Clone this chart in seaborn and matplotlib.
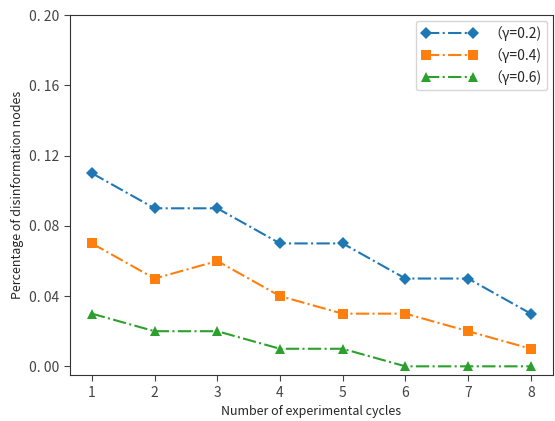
import matplotlib
matplotlib.use("Agg")
import matplotlib.pyplot as plt
import seaborn as sns
import pandas as pd

# Data
cycles = [1, 2, 3, 4, 5, 6, 7, 8]
gamma_02 = [0.11, 0.09, 0.09, 0.07, 0.07, 0.05, 0.05, 0.03]
gamma_04 = [0.07, 0.05, 0.06, 0.04, 0.03, 0.03, 0.02, 0.01]
gamma_06 = [0.03, 0.02, 0.02, 0.01, 0.01, 0.00, 0.00, 0.00]
labels = ["（γ=0.2)", "（γ=0.4)", "（γ=0.6)"]
y_ticks = [0.00, 0.04, 0.08, 0.12, 0.16, 0.20]
y_tick_labels = ["0. 00", "0. 04", "0. 08", "0. 12", "0. 16", "0. 20"]


def build_frame():
    rows = []
    for lab, vals in zip(labels, [gamma_02, gamma_04, gamma_06]):
        for c, v in zip(cycles, vals):
            rows.append({"cycle": c, "value": v, "series": lab})
    return pd.DataFrame(rows)


def main():
    sns.set_style("ticks")
    plt.rcParams["font.family"] = ["Noto Sans CJK SC", "DejaVu Sans"]
    df = build_frame()

    fig = plt.figure(figsize=(5.55, 4.21), dpi=100)
    ax = fig.add_axes([0.126, 0.109, 0.870, 0.855])

    colors = ["#1f77b4", "#ff7f0e", "#2ca02c"]
    markers = ["D", "s", "^"]
    sizes = [6, 6.5, 7]
    for lab, col, mk, ms in zip(labels, colors, markers, sizes):
        sub = df[df["series"] == lab]
        sns.lineplot(data=sub, x="cycle", y="value", ax=ax, color=col,
                     marker=mk, markersize=ms, markeredgewidth=0,
                     linestyle="-.", linewidth=1.5, label=lab)

    ax.set_xlim(0.65, 8.35)
    ax.set_ylim(-0.005, 0.2)
    ax.set_xticks(cycles)
    ax.set_yticks(y_ticks)
    ax.set_yticklabels(y_tick_labels)
    ax.tick_params(labelsize=10, colors="#444444", length=4)
    ax.set_xlabel("Number of experimental cycles", fontsize=9)
    ax.set_ylabel("Percentage of disinformation nodes", fontsize=9)
    for s in ax.spines.values():
        s.set_visible(True)
        s.set_color("#333333")
    ax.legend(loc="upper right", fontsize=10, frameon=True, numpoints=2,
              handlelength=4, borderaxespad=0.4)

    fig.savefig("out.png", dpi=100)


if __name__ == "__main__":
    main()
